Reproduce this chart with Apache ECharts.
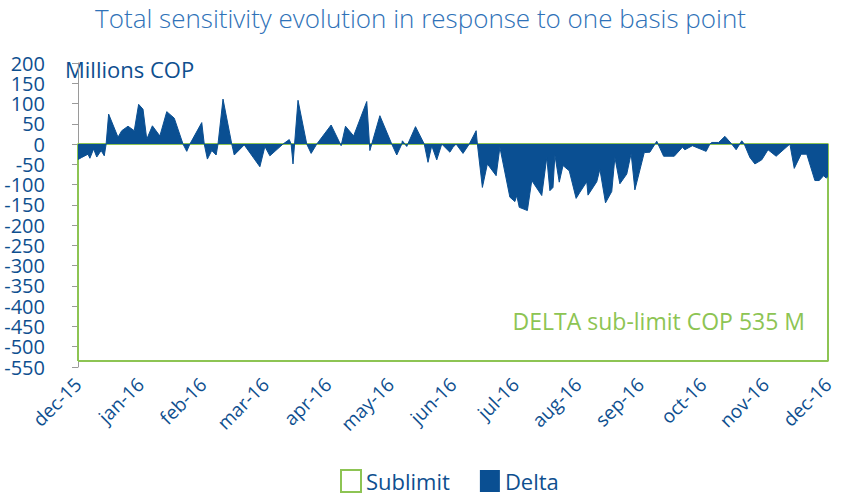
<!DOCTYPE html>
<html>
<head>
<meta charset="utf-8">
<script src="https://cdn.jsdelivr.net/npm/echarts@6/dist/echarts.min.js"></script>
<style>
  html, body { margin: 0; padding: 0; background: #fff; }
  #chart { width: 841px; height: 498px; }
</style>
</head>
<body>
<div id="chart"></div>
<script>
// Etiquetas del eje X (una por mes)
var monthLabels = ['dec-15', 'jan-16', 'feb-16', 'mar-16', 'apr-16', 'may-16', 'jun-16',
    'jul-16', 'aug-16', 'sep-16', 'oct-16', 'nov-16', 'dec-16'];

// Delta: posicion en meses desde dec-15 y valor (millones COP)
var deltaMonths = [0.00, 0.06, 0.16, 0.19, 0.25, 0.30, 0.37, 0.42, 0.45, 0.49, 0.64, 0.70, 0.80, 0.90,
    0.97, 1.04, 1.10, 1.19, 1.31, 1.42, 1.54, 1.68, 1.74, 1.79, 1.98, 2.02, 2.07, 2.14, 2.21, 2.24,
    2.32, 2.46, 2.50, 2.66, 2.91, 2.99, 3.07, 3.28, 3.38, 3.41, 3.44, 3.52, 3.66, 3.73, 3.82, 4.05,
    4.21, 4.28, 4.41, 4.62, 4.67, 4.83, 5.02, 5.10, 5.18, 5.19, 5.26, 5.40, 5.54, 5.60, 5.66, 5.74,
    5.82, 5.95, 6.00, 6.05, 6.16, 6.26, 6.37, 6.39, 6.47, 6.55, 6.69, 6.75, 6.91, 6.99, 7.02, 7.06,
    7.19, 7.26, 7.42, 7.50, 7.55, 7.60, 7.63, 7.70, 7.76, 7.86, 7.97, 8.03, 8.14, 8.16, 8.30, 8.35,
    8.44, 8.54, 8.59, 8.67, 8.78, 8.85, 8.91, 9.06, 9.15, 9.26, 9.37, 9.54, 9.67, 9.71, 9.83, 10.05,
    10.11, 10.14, 10.25, 10.35, 10.46, 10.53, 10.62, 10.66, 10.75, 10.83, 10.94, 11.04, 11.17, 11.39,
    11.46, 11.57, 11.66, 11.79, 11.86, 11.93, 11.97, 12.00];
var deltaValues = [-38, -33, -25, -35, -12, -32, -16, -29, 0, 74, 17, 33, 44, 33,
    98, 86, 12, 45, 20, 80, 64, 0, -18, 0, 53, 0, -37, -16, -27, 0,
    111, 0, -27, -2, -56, -6, -29, 0, 11, 0, -49, 108, 0, -23, 0, 47,
    -4, 44, 20, 105, -16, 70, 0, -27, 0, 8, -6, 43, 0, -45, -4, -39,
    0, -20, -8, 0, -23, 0, 33, 0, -107, -49, -78, -8, -131, -142, -127, -156,
    -164, -90, -127, -33, -115, -107, -27, -94, -53, -66, -134, -119, -93, -126, -93, -62,
    -145, -117, -33, -98, -74, -23, -113, -21, -20, 7, -30, -30, -8, -14, -4, -18,
    0, 4, 4, 19, 0, -14, 8, 0, -33, -49, -39, -14, -30, 0,
    -60, -25, -25, -90, -90, -78, -84, -80];

// Sublimite (recuadro verde): limite de -535 M
var sublimitMonths = [0, 0, 12, 12, 0];
var sublimitValues = [-535, 0, 0, -535, -535];

var blue = '#0a4f92';
var green = '#8dc453';
var textBlue = '#0e4f8f';

var chart = echarts.init(document.getElementById('chart'), null, { renderer: 'svg' });

function pairs(xs, ys) {
    return xs.map(function (x, i) { return [x, ys[i]]; });
}

var option = {
    animation: false,
    textStyle: { fontFamily: 'Open Sans' },
    title: {
        text: 'Total sensitivity evolution in response to one basis point',
        left: 'center',
        top: 0,
        textStyle: { color: '#2f72b8', fontSize: 26, fontWeight: 'lighter', fontFamily: 'Open Sans' }
    },
    grid: { left: 78, right: 13, top: 63, bottom: 131, containLabel: false },
    xAxis: {
        type: 'value',
        min: 0,
        max: 12,
        interval: 1,
        axisLine: { show: false },
        axisTick: { show: false },
        splitLine: { show: false },
        axisLabel: {
            rotate: 45,
            margin: 14,
            color: textBlue,
            fontSize: 19,
            formatter: function (v) { return monthLabels[Math.round(v)]; }
        }
    },
    yAxis: {
        type: 'value',
        min: -550,
        max: 200,
        interval: 50,
        offset: 25,
        axisLine: { show: true, lineStyle: { color: '#9a9a9a', width: 1 } },
        axisTick: { show: true, length: 6, lineStyle: { color: '#9a9a9a' } },
        splitLine: { show: false },
        axisLabel: { color: textBlue, fontSize: 20, lineHeight: 19, margin: 8 }
    },
    legend: {
        bottom: 0,
        left: 335,
        itemWidth: 20,
        itemHeight: 22,
        itemGap: 30,
        textStyle: { color: textBlue, fontSize: 22 },
        data: [
            { name: 'Sublimit', icon: 'rect', itemStyle: { color: 'transparent', borderColor: green, borderWidth: 2 } },
            { name: 'Delta', icon: 'rect', itemStyle: { color: blue } }
        ]
    },
    graphic: [
        {
            type: 'text', left: 65, top: 58,
            style: { text: 'Millions COP', fill: textBlue, fontSize: 22, fontFamily: 'Open Sans' }
        },
        {
            type: 'text', right: 36, top: 309,
            style: { text: 'DELTA sub-limit COP 535 M', fill: green, fontSize: 23, fontFamily: 'Open Sans' }
        }
    ],
    series: [
        {
            name: 'Sublimit',
            type: 'line',
            z: 1,
            showSymbol: false,
            symbol: 'none',
            color: green,
            lineStyle: { color: green, width: 2 },
            data: pairs(sublimitMonths, sublimitValues)
        },
        {
            name: 'Delta',
            type: 'line',
            z: 3,
            showSymbol: false,
            symbol: 'none',
            color: blue,
            lineStyle: { color: blue, width: 1 },
            areaStyle: { color: blue, opacity: 1, origin: 0 },
            data: pairs(deltaMonths, deltaValues)
        }
    ]
};

chart.setOption(option);
</script>
</body>
</html>
